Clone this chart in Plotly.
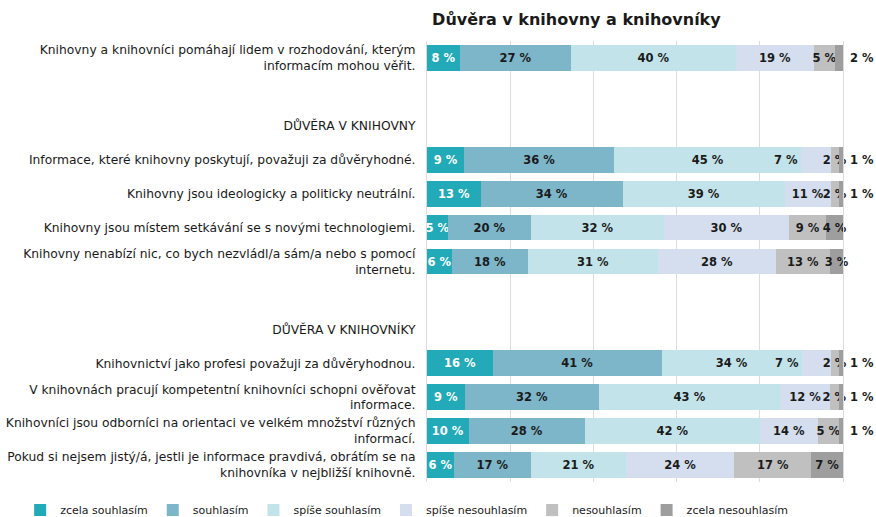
import plotly.graph_objects as go

title = "Důvěra v knihovny a knihovníky"

series_names = ["zcela souhlasím", "souhlasím", "spíše souhlasím",
                "spíše nesouhlasím", "nesouhlasím", "zcela nesouhlasím"]

statements = [
    "Knihovny a knihovníci pomáhají lidem v rozhodování, kterým<br>informacím mohou věřit.",
    "Informace, které knihovny poskytují, považuji za důvěryhodné.",
    "Knihovny jsou ideologicky a politicky neutrální.",
    "Knihovny jsou místem setkávání se s novými technologiemi.",
    "Knihovny nenabízí nic, co bych nezvládl/a sám/a nebo s pomocí<br>internetu.",
    "Knihovnictví jako profesi považuji za důvěryhodnou.",
    "V knihovnách pracují kompetentní knihovníci schopni ověřovat<br>informace.",
    "Knihovníci jsou odborníci na orientaci ve velkém množství různých<br>informací.",
    "Pokud si nejsem jistý/á, jestli je informace pravdivá, obrátím se na<br>knihovníka v nejbližší knihovně.",
]

header_libraries = "DŮVĚRA V KNIHOVNY"
header_librarians = "DŮVĚRA V KNIHOVNÍKY"

zcela_souhlasim =   [8, 9, 13, 5, 6, 16, 9, 10, 6]
souhlasim =         [27, 36, 34, 20, 18, 41, 32, 28, 17]
spise_souhlasim =   [40, 45, 39, 32, 31, 34, 43, 42, 21]
spise_nesouhlasim = [19, 7, 11, 30, 28, 7, 12, 14, 24]
nesouhlasim =       [5, 2, 2, 9, 13, 2, 2, 5, 17]
zcela_nesouhlasim = [2, 1, 1, 4, 3, 1, 1, 1, 7]

series_values = [zcela_souhlasim, souhlasim, spise_souhlasim,
                 spise_nesouhlasim, nesouhlasim, zcela_nesouhlasim]

colors = ["#22AAB9", "#7DB5C9", "#C2E3E9", "#D4DEEE", "#C0C0C0", "#9E9E9E"]
text_colors = ["#FFFFFF", "#1A1A1A", "#1A1A1A", "#1A1A1A", "#1A1A1A", "#1A1A1A"]
grid_color = "#DCDCDC"

# category order on the y axis (blank rows and section headers included)
row_order = ([statements[0], " ", header_libraries] + statements[1:5] +
             ["  ", header_librarians] + statements[5:9])

font_family = "DejaVu Sans, Verdana, sans-serif"
label_size = 11.5

totals = [sum(col) for col in zip(*series_values)]

fig = go.Figure()

# invisible trace keeping all categories (headers and blank rows) on the axis
fig.add_trace(go.Scatter(
    x=[0] * len(row_order), y=row_order, mode="markers",
    marker=dict(opacity=0, size=1), showlegend=False, hoverinfo="skip"))

last = len(series_names) - 1
moved_idx = 3  # small "spíše nesouhlasím" labels sit just left of their segment
for i, (name, vals) in enumerate(zip(series_names, series_values)):
    if i == last:
        positions = ["outside" if v <= 2 else "inside" for v in vals]
    else:
        positions = ["inside"] * len(vals)
    if i == moved_idx:
        texts = ["" if v < 10 else f"{v} %" for v in vals]
    else:
        texts = [("\u00a0" if p == "outside" else "") + f"{v} %"
                 for v, p in zip(vals, positions)]
    fig.add_trace(go.Bar(
        name=name, y=statements, x=vals, orientation="h",
        marker=dict(color=colors[i], line=dict(width=0)),
        text=texts,
        textposition=positions,
        insidetextanchor="middle",
        textangle=0,
        textfont=dict(family=font_family, size=label_size, color=text_colors[i], weight="bold"),
        outsidetextfont=dict(family=font_family, size=label_size, color="#1A1A1A", weight="bold"),
        constraintext="none",
        cliponaxis=False,
        hoverinfo="skip",
    ))

# labels of small "spíše nesouhlasím" segments, anchored at the segment start
for j, v in enumerate(spise_nesouhlasim):
    if v < 10:
        start = sum(series_values[k][j] for k in range(moved_idx)) / totals[j] * 100
        fig.add_annotation(
            x=start, y=statements[j], xref="x", yref="y", text=f"{v} %",
            showarrow=False, xanchor="right", xshift=-1,
            font=dict(family=font_family, size=label_size, color="#1A1A1A", weight="bold"))

fig.update_layout(
    width=876, height=517,
    barmode="stack", barnorm="percent", bargap=0.24,
    paper_bgcolor="white", plot_bgcolor="white",
    margin=dict(l=427, r=33, t=41, b=35, autoexpand=False),
    title=dict(text=f"<b>{title}</b>", x=0.658, xanchor="center",
               y=0.962, yanchor="middle",
               font=dict(family=font_family, size=16, color="#1A1A1A")),
    font=dict(family=font_family, size=12, color="#1A1A1A"),
    uniformtext=dict(minsize=label_size, mode="show"),
    showlegend=True,
    legend=dict(orientation="h", x=-0.978, xanchor="left",
                y=-0.0635, yanchor="middle",
                font=dict(family=font_family, size=11, color="#1A1A1A"),
                traceorder="normal", itemwidth=30),
    xaxis=dict(range=[0, 100], dtick=20, showgrid=True, gridcolor=grid_color,
               gridwidth=1, showticklabels=False, zeroline=False, showline=False,
               fixedrange=True, automargin=False),
    yaxis=dict(type="category", categoryorder="array", categoryarray=row_order,
               range=[len(row_order) - 0.5, -0.5], showgrid=False, ticks="",
               showline=True, mirror=True, linecolor=grid_color, linewidth=1,
               ticklabelstandoff=8, automargin=False, fixedrange=True,
               tickfont=dict(family=font_family, size=12.3, color="#1A1A1A")),
)

fig.write_html("out.html",
               config={"displayModeBar": False},
               post_script="document.body.style.margin='0';document.body.style.padding='0';")
